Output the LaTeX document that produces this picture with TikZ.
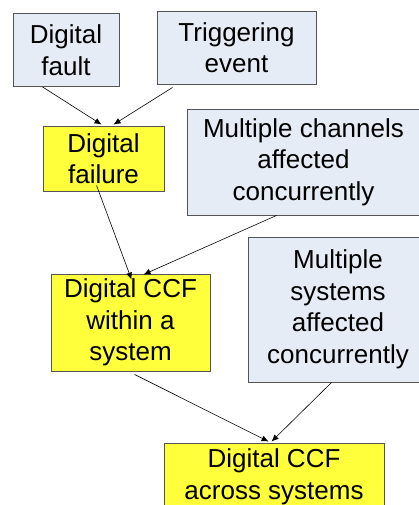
\documentclass[tikz,border=0pt]{standalone}
\usepackage{fontspec}
\setmainfont{Liberation Sans}
\usetikzlibrary{arrows.meta}
\definecolor{boxblue}{HTML}{E6ECF6}
\definecolor{boxyellow}{HTML}{FFFF3C}
\definecolor{boxline}{HTML}{555555}
\begin{document}
\begin{tikzpicture}[x=1pt,y=-1pt,
  box/.style={draw=boxline, line width=0.9pt, inner sep=0pt, align=center,
    font=\fontsize{26}{31.5}\selectfont,
    execute at begin node={\rule{0pt}{23pt}}},
  bluebox/.style={box, fill=boxblue},
  yellowbox/.style={box, fill=boxyellow},
  conn/.style={line width=0.6pt, -{Latex[length=7pt,width=6pt]}}]
\useasboundingbox (0,0) rectangle (419,505);
\clip (0,0) rectangle (419,505);
\fill[white] (0,0) rectangle (419,505);
\node[bluebox, minimum width=106pt, minimum height=73pt] (fault) at (66,50) {Digital\\fault};
\node[bluebox, minimum width=159pt, minimum height=73pt] (trig) at (236.5,47.5) {Triggering\\event};
\node[yellowbox, minimum width=121pt, minimum height=65pt] (fail) at (103.5,158.5) {Digital\\failure};
\node[bluebox, minimum width=233pt, minimum height=106pt] (chan) at (303.5,162) {Multiple channels\\affected\\concurrently};
\node[yellowbox, minimum width=159pt, minimum height=97pt] (within) at (130.5,322.5) {Digital CCF\\within a\\system};
\node[bluebox, minimum width=180pt, minimum height=145pt] (sys) at (338,309.5) {Multiple\\systems\\affected\\concurrently};
\node[yellowbox, minimum width=220pt, minimum height=68pt] (across) at (274,477) {Digital CCF\\across systems};
\draw[conn] ([xshift=30pt]fault.south west) -- ([xshift=59pt,yshift=1pt]fail.north west);
\draw[conn] ([xshift=16pt,yshift=-3pt]trig.south west) -- ([xshift=71pt,yshift=1pt]fail.north west);
\draw[conn] ([xshift=54pt,yshift=6pt]fail.south west) -- ([xshift=81pt,yshift=-6pt]within.north west);
\draw[conn] ([xshift=90pt]chan.south west) -- ([xshift=93pt,yshift=-1pt]within.north west);
\draw[conn] ([xshift=84pt,yshift=-3pt]within.south west) -- ([xshift=105pt,yshift=1pt]across.north west);
\draw[conn] ([xshift=84pt]sys.south west) -- ([xshift=108pt,yshift=1pt]across.north west);
\end{tikzpicture}
\end{document}
